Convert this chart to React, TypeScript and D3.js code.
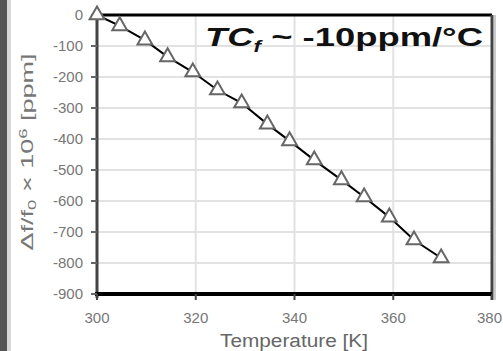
import React from "react";
import * as d3 from "d3";

const temps = [300, 304.6, 309.7, 314.3, 319.4, 324.4, 329.3, 334.5, 339, 344, 349.5, 354.1, 359.2, 364.2, 369.7];
const drift = [0, -35, -81, -135, -184, -242, -284, -352, -406, -468, -532, -587, -652, -726, -784];
const xTicks = [300, 320, 340, 360, 380];
const yTicks = [0, -100, -200, -300, -400, -500, -600, -700, -800, -900];

const W = 503;
const H = 351;
const L = 97, R = 492, T = 15, B = 294;

export default function App() {
  const x = d3.scaleLinear().domain([300, 380]).range([L, R]);
  const y = d3.scaleLinear().domain([-900, 0]).range([B, T]);
  const pts = temps.map((t, i) => [x(t), y(drift[i])] as [number, number]);
  const line = d3.line()(pts) || "";
  const tri = d3.symbol().type(d3.symbolTriangle).size(95)() || "";
  const font = "Arial, 'Liberation Sans', sans-serif";
  return (
    <div style={{ position: "fixed", left: 0, top: 0, width: W, height: H, background: "#fff" }}>
      <svg width={W} height={H} style={{ display: "block" }}>
        <rect x={0} y={0} width={W} height={H} fill="#fff" />
        <rect x={0} y={0} width={7} height={H} fill="#555" />
        <rect x={7} y={0} width={4} height={H} fill="#d8d8d8" />
        {/* grid */}
        {yTicks.map((v) => (
          <line key={"gy" + v} x1={L} x2={R} y1={y(v)} y2={y(v)} stroke="#e2e2e2" strokeWidth={2} />
        ))}
        {xTicks.map((v) => (
          <line key={"gx" + v} x1={x(v)} x2={x(v)} y1={T} y2={B} stroke="#e2e2e2" strokeWidth={2} />
        ))}
        {/* borders */}
        <line x1={L} x2={R} y1={T} y2={T} stroke="#000" strokeWidth={3} />
        <line x1={R} x2={R} y1={T} y2={B + 6} stroke="#444" strokeWidth={3} />
        <line x1={R + 3} x2={R + 3} y1={T} y2={B + 6} stroke="#ccc" strokeWidth={2} />
        <line x1={L} x2={L} y1={T} y2={B + 4} stroke="#444" strokeWidth={3} />
        <line x1={L - 2} x2={R} y1={B} y2={B} stroke="#000" strokeWidth={4} />
        {/* ticks */}
        {yTicks.map((v) => (
          <g key={"ty" + v}>
            <line x1={L - 6} x2={L} y1={y(v)} y2={y(v)} stroke="#666" strokeWidth={2} />
            <text x={83} y={y(v) + 5} textAnchor="end" fontSize={15} fontFamily={font} fill="#777">{v}</text>
          </g>
        ))}
        {xTicks.map((v, i) => (
          <g key={"tx" + v}>
            <line x1={x(v)} x2={x(v)} y1={B} y2={B + 6} stroke="#444" strokeWidth={2} />
            <text
              x={i === xTicks.length - 1 ? W - 1 : x(v)}
              y={323}
              textAnchor={i === xTicks.length - 1 ? "end" : "middle"}
              fontSize={15}
              fontFamily={font}
              fill="#777"
            >{v}</text>
          </g>
        ))}
        {/* data */}
        <path d={line} fill="none" stroke="#000" strokeWidth={2} />
        {pts.map((p, i) => (
          <path key={i} d={tri} transform={`translate(${p[0]},${p[1]})`} fill="#fff" stroke="#666" strokeWidth={2} />
        ))}
        {/* annotation */}
        <text x={205} y={46} fontSize={26} fontWeight="bold" fontFamily={font} fill="#111" textLength={278} lengthAdjust="spacingAndGlyphs">
          <tspan fontStyle="italic">TC</tspan>
          <tspan fontStyle="italic" fontSize={16} dy={6}>f</tspan>
          <tspan dy={-6}> ~ -10ppm/°C</tspan>
        </text>
        {/* axis labels */}
        <text x={294} y={347} textAnchor="middle" fontSize={18} fontFamily={font} fill="#666" textLength={148} lengthAdjust="spacingAndGlyphs">Temperature [K]</text>
        <text transform="translate(33,152) rotate(-90)" textAnchor="middle" fontSize={16} fontFamily={font} fill="#777" textLength={197} lengthAdjust="spacingAndGlyphs">
          <tspan>Δf/f</tspan>
          <tspan fontSize={11} dy={3}>0</tspan>
          <tspan dy={-3}> × 10</tspan>
          <tspan fontSize={11} dy={-6}>6</tspan>
          <tspan dy={6}> [ppm]</tspan>
        </text>
      </svg>
    </div>
  );
}
